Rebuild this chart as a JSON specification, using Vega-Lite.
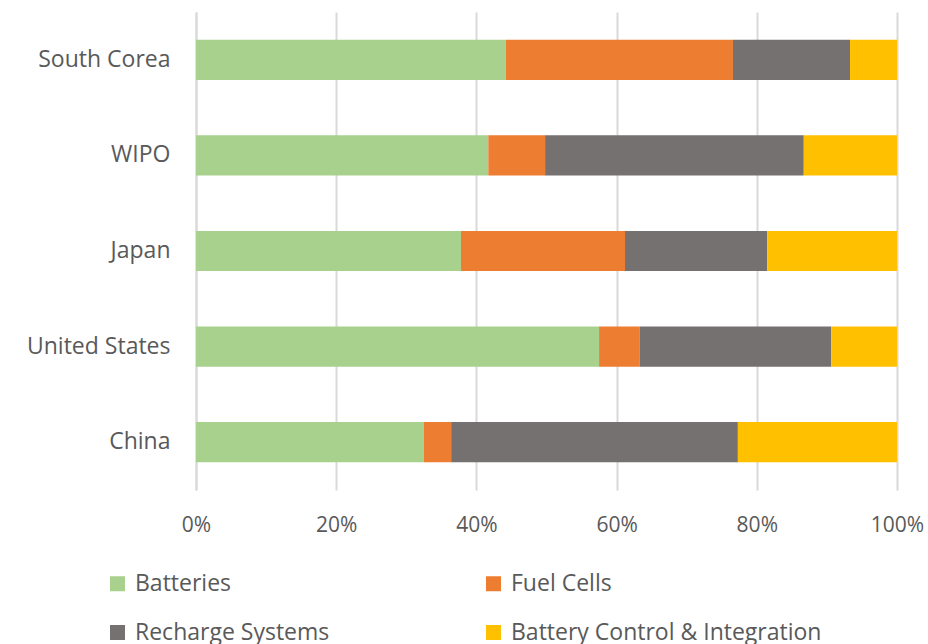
{
  "$schema": "https://vega.github.io/schema/vega-lite/v6.json",
  "width": 701,
  "height": 478,
  "autosize": {"type": "none"},
  "padding": {"left": 196, "top": 12, "right": 31, "bottom": 154},
  "background": "white",
  "config": {
    "view": {"stroke": null},
    "font": "Open Sans"
  },
  "data": {
    "values": [
      {"country": "South Corea", "category": "Batteries", "k": 1, "value": 44.2},
      {"country": "South Corea", "category": "Fuel Cells", "k": 2, "value": 32.4},
      {"country": "South Corea", "category": "Recharge Systems", "k": 3, "value": 16.7},
      {"country": "South Corea", "category": "Battery Control & Integration", "k": 4, "value": 6.7},
      {"country": "WIPO", "category": "Batteries", "k": 1, "value": 41.7},
      {"country": "WIPO", "category": "Fuel Cells", "k": 2, "value": 8.1},
      {"country": "WIPO", "category": "Recharge Systems", "k": 3, "value": 36.9},
      {"country": "WIPO", "category": "Battery Control & Integration", "k": 4, "value": 13.3},
      {"country": "Japan", "category": "Batteries", "k": 1, "value": 37.8},
      {"country": "Japan", "category": "Fuel Cells", "k": 2, "value": 23.4},
      {"country": "Japan", "category": "Recharge Systems", "k": 3, "value": 20.3},
      {"country": "Japan", "category": "Battery Control & Integration", "k": 4, "value": 18.5},
      {"country": "United States", "category": "Batteries", "k": 1, "value": 57.5},
      {"country": "United States", "category": "Fuel Cells", "k": 2, "value": 5.8},
      {"country": "United States", "category": "Recharge Systems", "k": 3, "value": 27.3},
      {"country": "United States", "category": "Battery Control & Integration", "k": 4, "value": 9.4},
      {"country": "China", "category": "Batteries", "k": 1, "value": 32.5},
      {"country": "China", "category": "Fuel Cells", "k": 2, "value": 3.9},
      {"country": "China", "category": "Recharge Systems", "k": 3, "value": 40.9},
      {"country": "China", "category": "Battery Control & Integration", "k": 4, "value": 22.7}
    ]
  },
  "mark": {"type": "bar"},
  "encoding": {
    "y": {
      "field": "country",
      "type": "nominal",
      "sort": ["South Corea", "WIPO", "Japan", "United States", "China"],
      "scale": {"paddingInner": 0.58, "paddingOuter": 0.29},
      "axis": {
        "title": null,
        "ticks": false,
        "domain": true,
        "domainColor": "#d9d9d9",
        "domainWidth": 2,
        "labelFontSize": 23,
        "labelColor": "#595959",
        "labelPadding": 26,
        "labelLimit": 300
      }
    },
    "x": {
      "field": "value",
      "type": "quantitative",
      "stack": "normalize",
      "scale": {"domain": [0, 1], "nice": false},
      "axis": {
        "title": null,
        "format": "%",
        "values": [0, 0.2, 0.4, 0.6, 0.8, 1],
        "ticks": false,
        "domain": false,
        "grid": true,
        "gridColor": "#d9d9d9",
        "gridWidth": 2,
        "labelFontSize": 21,
        "labelColor": "#595959",
        "labelPadding": 24,
        "labelFlush": false
      }
    },
    "color": {
      "field": "category",
      "type": "nominal",
      "scale": {
        "domain": ["Batteries", "Fuel Cells", "Recharge Systems", "Battery Control & Integration"],
        "range": ["#A9D18E", "#ED7D31", "#767171", "#FFC000"]
      },
      "legend": {
        "title": null,
        "orient": "none",
        "legendX": -90,
        "legendY": 560,
        "direction": "horizontal",
        "columns": 2,
        "symbolType": "square",
        "symbolSize": 225,
        "symbolStrokeWidth": 0,
        "labelFontSize": 23,
        "labelColor": "#595959",
        "labelOffset": 6,
        "rowPadding": 25,
        "columnPadding": 152,
        "labelLimit": 400
      }
    },
    "order": {"field": "k", "type": "quantitative"}
  }
}
